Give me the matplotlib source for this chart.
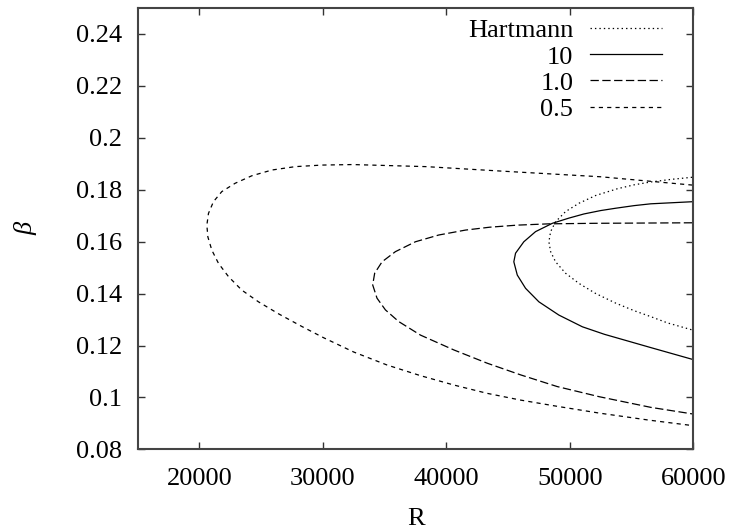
import matplotlib
matplotlib.use("Agg")
import matplotlib.pyplot as plt

# contour data (R, beta), traced from upper-right end around the nose to lower-right end
hart_R = [59900, 58200, 56550, 55200, 53850, 52090, 50730, 49650, 48840, 48440, 48300,
          48440, 48840, 49650, 50730, 52090, 53710, 55200, 56550, 57900, 59900]
hart_b = [0.1847, 0.1839, 0.1829, 0.1818, 0.1803, 0.1777, 0.1747, 0.1715, 0.1676, 0.1638, 0.1599,
          0.1561, 0.1522, 0.1478, 0.1439, 0.1400, 0.1363, 0.1334, 0.1311, 0.1287, 0.1260]

r10_R = [59900, 56550, 55200, 53710, 52490, 51140, 49920, 48580, 47220, 46270, 45600, 45460,
         45740, 46410, 47490, 49110, 51010, 52800, 56550, 59900]
r10_b = [0.1753, 0.1745, 0.1738, 0.1728, 0.1719, 0.1706, 0.1690, 0.1670, 0.1638, 0.1599, 0.1555,
         0.1522, 0.1471, 0.1420, 0.1368, 0.1317, 0.1272, 0.1243, 0.1192, 0.1147]

r1_R = [59900, 52000, 48330, 45740, 43500, 41550, 39380, 37490, 35870, 34790, 34190, 34030,
        34380, 35060, 36140, 37900, 40600, 43300, 46010, 48980, 52380, 56560, 59900]
r1_b = [0.1672, 0.1670, 0.1668, 0.1663, 0.1655, 0.1644, 0.1625, 0.1599, 0.1561, 0.1522, 0.1478,
        0.1433, 0.1382, 0.1337, 0.1292, 0.1240, 0.1183, 0.1132, 0.1087, 0.1042, 0.1003, 0.0962,
        0.0937]

r05_R = [59930, 52490, 44390, 38360, 32400, 29920, 27760, 25870, 24250, 22890, 21810,
         21130, 20730, 20600, 20680, 21000, 21540, 22350, 23430, 24780, 26400, 28300,
         30050, 32490, 35190, 37900, 40600, 43300, 46010, 48980, 52380, 56400, 59930]
r05_b = [0.1817, 0.1849, 0.1871, 0.1888, 0.1896, 0.1894, 0.1888, 0.1875, 0.1853, 0.1824, 0.1792,
         0.1753, 0.1708, 0.1663, 0.1618, 0.1567, 0.1516, 0.1465, 0.1413, 0.1368, 0.1322, 0.1273,
         0.1230, 0.1175, 0.1125, 0.1084, 0.1048, 0.1016, 0.0990, 0.0966, 0.0940, 0.0913, 0.0892]

xticks = [20000, 30000, 40000, 50000, 60000]
yticks = [0.08, 0.1, 0.12, 0.14, 0.16, 0.18, 0.2, 0.22, 0.24]
ytick_labels = ["0.08", "0.1", "0.12", "0.14", "0.16", "0.18", "0.2", "0.22", "0.24"]

plt.rcParams["font.family"] = ["Liberation Serif", "DejaVu Serif"]
plt.rcParams["font.size"] = 19
plt.rcParams["lines.scale_dashes"] = False

fig = plt.figure(figsize=(7.31, 5.30), dpi=100)
ax = fig.add_axes([0.1884, 0.1519, 0.7601, 0.8339])

lw = 0.9
ax.plot(hart_R, hart_b, color="black", lw=lw, dashes=(1.0, 2.2), label="Hartmann")
ax.plot(r10_R, r10_b, color="black", lw=lw, label="10")
ax.plot(r1_R, r1_b, color="black", lw=lw, dashes=(6.0, 2.5), label="1.0")
ax.plot(r05_R, r05_b, color="black", lw=lw, dashes=(3.0, 3.0), label="0.5")

ax.set_xlim(15000, 60000)
ax.set_ylim(0.08, 0.25)
ax.set_xticks(xticks)
ax.set_yticks(yticks)
ax.set_yticklabels(ytick_labels)
ax.tick_params(direction="in", length=5, width=1.0, top=True, right=True,
               color="#333333", labelsize=19)
ax.tick_params(axis="y", pad=11)
ax.tick_params(axis="x", pad=13)
for sp in ax.spines.values():
    sp.set_color("#444444")
    sp.set_linewidth(1.5)

ax.set_xlabel("R", labelpad=13)
ax.set_ylabel("β", style="italic", labelpad=28)

ax.legend(loc="upper right", bbox_to_anchor=(0.943, 0.974), frameon=False,
          markerfirst=False, handlelength=2.7, handletextpad=0.65,
          labelspacing=0.1, borderpad=0, borderaxespad=0, fontsize=19)

plt.savefig("out.png", dpi=100)
